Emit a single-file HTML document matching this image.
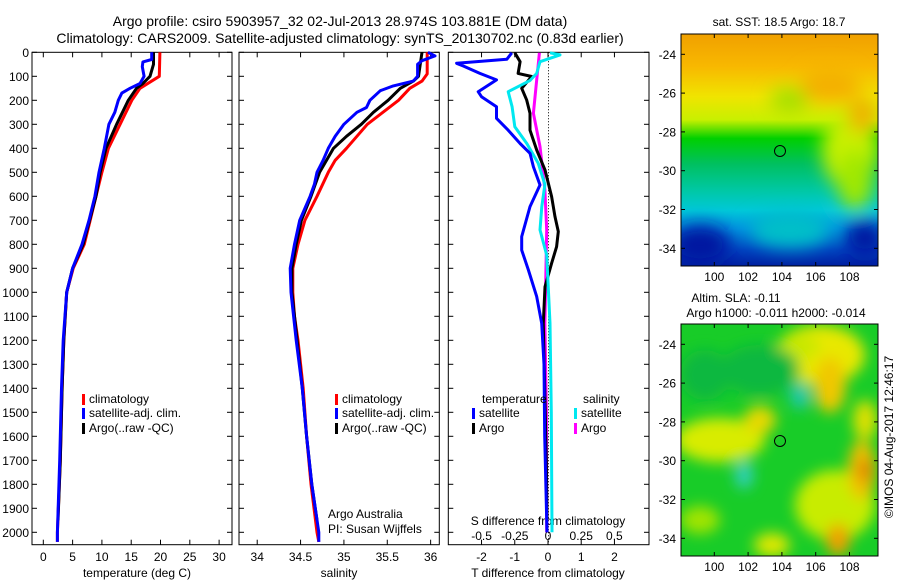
<!DOCTYPE html>
<html><head><meta charset="utf-8">
<style>
html,body{margin:0;padding:0;background:#fff;}
svg{display:block;font-family:"Liberation Sans",sans-serif;}
text{fill:#000;}
</style></head>
<body>
<svg id="fig" width="900" height="580" viewBox="0 0 900 580" xmlns="http://www.w3.org/2000/svg">
<defs>
<filter id="blur1" x="-20%" y="-20%" width="140%" height="140%"><feGaussianBlur stdDeviation="9"/></filter>
<filter id="blur2" x="-20%" y="-20%" width="140%" height="140%"><feGaussianBlur stdDeviation="7"/></filter>
<clipPath id="clipMap1"><rect x="681" y="34" width="197" height="232"/></clipPath>
<clipPath id="clipMap2"><rect x="681" y="324" width="197" height="232"/></clipPath>
<linearGradient id="sstGrad" x1="0" y1="0" x2="0" y2="1">
<stop offset="0" stop-color="#f0a000"/><stop offset="0.14" stop-color="#f8b800"/>
<stop offset="0.27" stop-color="#f0e400"/><stop offset="0.37" stop-color="#c8f000"/>
<stop offset="0.45" stop-color="#00d000"/><stop offset="0.56" stop-color="#00c060"/>
<stop offset="0.68" stop-color="#00c8a8"/><stop offset="0.76" stop-color="#00c8d8"/>
<stop offset="0.84" stop-color="#0090e0"/><stop offset="0.93" stop-color="#0040c0"/>
<stop offset="1" stop-color="#0020a0"/>
</linearGradient>
</defs>
<g font-size="14" text-anchor="middle">
<text x="340" y="26">Argo profile: csiro 5903957_32 02-Jul-2013 28.974S 103.881E (DM data)</text>
<text x="340" y="43">Climatology: CARS2009. Satellite-adjusted climatology: synTS_20130702.nc (0.83d earlier)</text>
</g>
<g id="plots"></g>

<!-- SST map -->
<g>
<text x="779" y="26" font-size="12" text-anchor="middle">sat. SST: 18.5 Argo: 18.7</text>
<g clip-path="url(#clipMap1)">
<rect x="681" y="34" width="197" height="232" fill="url(#sstGrad)"/>
<g filter="url(#blur1)">
<ellipse cx="850" cy="150" rx="28" ry="40" fill="#c8f000"/>
<ellipse cx="862" cy="115" rx="14" ry="18" fill="#f0b000"/>
<ellipse cx="855" cy="180" rx="18" ry="30" fill="#a0e800"/>
<ellipse cx="700" cy="245" rx="30" ry="20" fill="#0018a0"/>
<ellipse cx="865" cy="238" rx="20" ry="18" fill="#0018a0"/>
<ellipse cx="790" cy="230" rx="40" ry="18" fill="#00c0c8"/>
<ellipse cx="790" cy="100" rx="20" ry="12" fill="#a0e000"/>
<ellipse cx="830" cy="85" rx="30" ry="18" fill="#f4b000"/>
</g>
</g>
<rect x="681" y="34" width="197" height="232" fill="none" stroke="#000"/>
<circle cx="780" cy="151" r="5.5" fill="none" stroke="#000"/>
<g id="map1ticks" font-size="12"></g>
</g>

<!-- SLA map -->
<g>
<text x="736" y="302" font-size="12" text-anchor="middle">Altim. SLA: -0.11</text>
<text x="776" y="317" font-size="12" text-anchor="middle">Argo h1000: -0.011 h2000: -0.014</text>
<g clip-path="url(#clipMap2)">
<rect x="681" y="324" width="197" height="232" fill="#18cc28"/>
<g filter="url(#blur2)">
<ellipse cx="820" cy="355" rx="45" ry="30" fill="#e8e800"/>
<ellipse cx="830" cy="385" rx="16" ry="28" fill="#f0c800"/>
<ellipse cx="720" cy="440" rx="45" ry="22" fill="#d8ec00"/>
<ellipse cx="760" cy="420" rx="16" ry="14" fill="#e8d800"/>
<ellipse cx="800" cy="346" rx="20" ry="12" fill="#c8e800"/>
<ellipse cx="835" cy="505" rx="40" ry="35" fill="#c8ec00"/>
<ellipse cx="862" cy="470" rx="14" ry="30" fill="#f0c000"/>
<ellipse cx="865" cy="420" rx="12" ry="20" fill="#e0e000"/>
<ellipse cx="838" cy="540" rx="12" ry="16" fill="#f0a000"/>
<ellipse cx="865" cy="470" rx="7" ry="12" fill="#e08000"/>
<ellipse cx="772" cy="545" rx="18" ry="12" fill="#e0e800"/>
<ellipse cx="700" cy="520" rx="20" ry="14" fill="#a0e400"/>
<ellipse cx="800" cy="396" rx="10" ry="13" fill="#20c8b0"/>
<ellipse cx="744" cy="475" rx="9" ry="14" fill="#30d0c0"/>
<ellipse cx="760" cy="370" rx="40" ry="25" fill="#10b840"/>
<ellipse cx="705" cy="375" rx="25" ry="25" fill="#10b840"/>
</g>
</g>
<rect x="681" y="324" width="197" height="232" fill="none" stroke="#000"/>
<circle cx="780" cy="441" r="5.5" fill="none" stroke="#000"/>
<g id="map2ticks" font-size="12"></g>
</g>
<text x="0" y="0" font-size="12" text-anchor="middle" transform="translate(893,437) rotate(-90)">©IMOS 04-Aug-2017 12:46:17</text>
</svg>
<script>
// ---- depth grids and profile data ----
const depthTicks = [0,100,200,300,400,500,600,700,800,900,1000,1100,1200,1300,1400,1500,1600,1700,1800,1900,2000];
const tempTicks = [0,5,10,15,20,25,30];
const salTicks = [34,34.5,35,35.5,36];
const tdiffTicks = [-2,-1,0,1,2];
const sdiffTicks = [-0.5,-0.25,0,0.25,0.5];

const tClimDepth = [0,100,150,200,300,400,500,600,700,800,900,1000,1200,1400,1700,2000,2040];
const tClim      = [19.9,19.8,16.5,15.1,13.1,11.1,10.0,9.0,8.0,7.0,5.1,4.0,3.5,3.2,2.9,2.4,2.4];
const tSatDepth  = [0,30,40,60,100,130,150,170,200,250,300,400,500,600,700,800,900,1000,1200,1400,1700,2000,2040];
const tSat       = [18.5,18.5,17.0,16.9,17.2,16.5,14.8,13.4,12.8,12.2,11.2,10.4,9.5,8.8,7.8,6.6,5.0,4.0,3.4,3.1,2.8,2.4,2.4];
const tArgoDepth = [0,50,100,130,150,200,300,400,500,600,700,800,900,1000,1200,1400,1700,1950];
const tArgo      = [18.8,18.8,18.2,17.0,15.9,14.5,12.5,10.7,9.7,9.0,7.9,6.8,5.0,4.0,3.5,3.2,2.9,2.5];

const sClimDepth = [0,90,120,150,200,250,300,350,400,450,500,600,700,800,900,1000,1100,1200,1400,1600,1800,2000,2040];
const sClim      = [35.96,35.96,35.9,35.76,35.63,35.45,35.27,35.15,35.03,34.9,34.82,34.69,34.55,34.47,34.41,34.41,34.43,34.47,34.53,34.57,34.62,34.69,34.71];
const sSatDepth  = [0,15,35,50,100,120,140,160,200,230,250,300,350,400,450,500,550,600,700,800,900,1000,1200,1400,1600,1800,2000,2040];
const sSat       = [35.97,36.05,35.9,35.85,35.85,35.8,35.57,35.42,35.3,35.26,35.15,35.0,34.9,34.82,34.76,34.69,34.66,34.61,34.49,34.43,34.38,34.39,34.45,34.52,34.57,34.63,34.71,34.71];
const sArgoDepth = [0,100,120,150,200,250,300,350,400,500,600,700,800,900,1000,1200,1400,1600,1800,1950];
const sArgo      = [35.9,35.86,35.8,35.65,35.51,35.34,35.2,35.03,34.88,34.72,34.62,34.51,34.45,34.4,34.4,34.46,34.52,34.57,34.63,34.69];

const dTSatDepth = [2,29,46,57,88,115,164,185,227,275,324,380,421,477,553,643,768,824,907,1018,1129,1300,1600,2000];
const dTSat      = [-1.09,-1.24,-2.75,-2.55,-2.05,-1.55,-2.1,-2.0,-1.55,-1.55,-1.2,-0.84,-0.54,-0.44,-0.24,-0.54,-0.79,-0.79,-0.59,-0.34,-0.19,-0.12,-0.1,-0.03];
const dTArgoDepth = [2,39,88,101,150,199,254,324,407,490,601,685,747,810,879,977,1129,1400,1700,1950];
const dTArgo      = [-1.0,-0.84,-0.9,-0.49,-0.79,-0.64,-0.54,-0.54,-0.34,-0.09,0.11,0.21,0.31,0.26,0.11,-0.09,-0.14,-0.1,-0.05,-0.03];
const dSArgoDepth = [2,115,254,393,574,740,1129,1500,2000];
const dSArgo      = [-0.065,-0.085,-0.11,-0.06,-0.023,-0.01,-0.023,-0.012,-0.01];
const dSSatDepth  = [2,11,39,88,118,164,227,310,380,463,551,643,740,845,1129,1500,2000];
const dSSat       = [0.015,0.09,-0.06,-0.085,-0.136,-0.3,-0.27,-0.25,-0.16,-0.073,-0.023,-0.047,-0.06,-0.01,0.015,0.025,0.03];

const mapLonTicks = [100,102,104,106,108];
const mapLatTicks = [-24,-26,-28,-30,-32,-34];

// ---- layout ----
const NS = 'http://www.w3.org/2000/svg';
const TOP = 52.3, BOT = 544.7;
const yD = d => 52.3 + d * 0.24;
const panels = [
  {name:'temperature', x0:32, x1:232, lo:-1.93, hi:32.2},
  {name:'salinity', x0:239, x1:439.3, lo:33.79, hi:36.1},
  {name:'difference', x0:448.3, x1:649, lo:-3.0, hi:3.04}
];
panels.forEach(p => p.sx = v => p.x0 + (v - p.lo) / (p.hi - p.lo) * (p.x1 - p.x0));
const sdx = v => 548 + v * 132.8;

const root = document.getElementById('plots');
function mk(tag, attrs, parent) {
  const e = document.createElementNS(NS, tag);
  for (const k in attrs) e.setAttribute(k, attrs[k]);
  (parent || root).appendChild(e);
  return e;
}
function txt(x, y, s, size, anchor, parent) {
  const t = mk('text', {x:x, y:y, 'font-size':size, 'text-anchor':anchor||'middle'}, parent);
  t.textContent = s;
  return t;
}
function line(vals, depths, sx, color, name, w) {
  const pts = vals.map((v,i) => sx(v).toFixed(1) + ',' + yD(depths[i]).toFixed(1)).join(' ');
  const pl = mk('polyline', {points:pts, fill:'none', stroke:color, 'stroke-width':w||3, 'stroke-linejoin':'round'});
  
  
}

panels.forEach((p, pi) => {
  const g = mk('g', {});
  
  
  mk('rect', {x:p.x0, y:TOP, width:p.x1-p.x0, height:BOT-TOP, fill:'none', stroke:'#000', 'stroke-width':1}, g);
  depthTicks.forEach(d => {
    const y = yD(d);
    mk('line', {x1:p.x0, x2:p.x0+5, y1:y, y2:y, stroke:'#000'}, g);
    mk('line', {x1:p.x1-5, x2:p.x1, y1:y, y2:y, stroke:'#000'}, g);
    if (pi === 0) {
      const t = txt(p.x0-3, y+4.5, String(d), 12, 'end', g);
      
      
    }
  });
  const ticks = pi === 0 ? tempTicks : pi === 1 ? salTicks : tdiffTicks;
  ticks.forEach(v => {
    const x = p.sx(v);
    mk('line', {x1:x, x2:x, y1:BOT, y2:BOT-5, stroke:'#000'}, g);
    mk('line', {x1:x, x2:x, y1:TOP, y2:TOP+5, stroke:'#000'}, g);
    const t = txt(x, 561, String(v), 12, 'middle', g);
    
    
  });
});

// x-axis titles
[[137,'temperature (deg C)','temperature-axis-title'],[339,'salinity','salinity-axis-title'],[548,'T difference from climatology','t-diff-axis-title']].forEach(a => {
  const t = txt(a[0], 577, a[1], 12);
  
  
});

// zero line in diff panel
const zl = mk('line', {x1:548.5, x2:548.5, y1:TOP, y2:BOT, stroke:'#000', 'stroke-dasharray':'1,2'});



// S difference axis labels
sdiffTicks.forEach(v => {
  const t = txt(sdx(v), 540, String(v), 12);
  
  
});
const sdt = txt(548, 525, 'S difference from climatology', 12);



// profiles
const P0 = panels[0], P1 = panels[1], P2 = panels[2];
line(tClim, tClimDepth, P0.sx, '#ff0000', 'temperature-climatology-line');
line(tArgo, tArgoDepth, P0.sx, '#000000', 'temperature-argo-line');
line(tSat, tSatDepth, P0.sx, '#0000ff', 'temperature-satellite-line');
line(sClim, sClimDepth, P1.sx, '#ff0000', 'salinity-climatology-line');
line(sArgo, sArgoDepth, P1.sx, '#000000', 'salinity-argo-line');
line(sSat, sSatDepth, P1.sx, '#0000ff', 'salinity-satellite-line');
line(dSArgo, dSArgoDepth, sdx, '#ff00ff', 's-diff-argo-line');
line(dTArgo, dTArgoDepth, P2.sx, '#000000', 't-diff-argo-line');
line(dSSat, dSSatDepth, sdx, '#00e8f0', 's-diff-satellite-line');
line(dTSat, dTSatDepth, P2.sx, '#0000ff', 't-diff-satellite-line');

// legends
function legendEntry(x, y, color, label, name) {
  const g = mk('g', {});
  
  
  mk('rect', {x:x, y:y-9, width:3, height:11, fill:color}, g);
  txt(x+7, y, label, 12, 'start', g);
}
[[82,'temperature'],[335,'salinity']].forEach(a => {
  legendEntry(a[0], 403, '#ff0000', 'climatology', a[1]+'-legend-climatology');
  legendEntry(a[0], 417, '#0000ff', 'satellite-adj. clim.', a[1]+'-legend-satellite');
  legendEntry(a[0], 432, '#000000', 'Argo(..raw -QC)', a[1]+'-legend-argo');
});
const lt = txt(482, 403, 'temperature', 12, 'start');  
const ls = txt(583, 403, 'salinity', 12, 'start');  
legendEntry(472, 417, '#0000ff', 'satellite', 'diff-legend-t-satellite');
legendEntry(472, 432, '#000000', 'Argo', 'diff-legend-t-argo');
legendEntry(574, 417, '#00e8f0', 'satellite', 'diff-legend-s-satellite');
legendEntry(574, 432, '#ff00ff', 'Argo', 'diff-legend-s-argo');

const a1 = txt(328, 518, 'Argo Australia', 12, 'start');  
const a2 = txt(328, 533, 'PI: Susan Wijffels', 12, 'start');  

// map ticks
function mapTicks(gid, top, bot, lat24y, lat34y) {
  const g = document.getElementById(gid);
  const lonX = lon => 714.3 + (lon - 100) * 16.9;
  const latY = lat => lat24y + (-24 - lat) * (lat34y - lat24y) / 10;
  mapLonTicks.forEach(lon => {
    const x = lonX(lon);
    mk('line', {x1:x, x2:x, y1:bot, y2:bot-4, stroke:'#000'}, g);
    mk('line', {x1:x, x2:x, y1:top, y2:top+4, stroke:'#000'}, g);
    const t = txt(x, bot+15, String(lon), 12, 'middle', g);
    
    
  });
  mapLatTicks.forEach(lat => {
    const y = latY(lat);
    mk('line', {x1:681, x2:685, y1:y, y2:y, stroke:'#000'}, g);
    mk('line', {x1:874, x2:878, y1:y, y2:y, stroke:'#000'}, g);
    const t = txt(676, y+4.5, String(lat), 12, 'end', g);
    
    
  });
}
mapTicks('map1ticks', 34, 266, 54.3, 248.3);
mapTicks('map2ticks', 324, 556, 344.3, 538.3);
</script>
</body></html>
